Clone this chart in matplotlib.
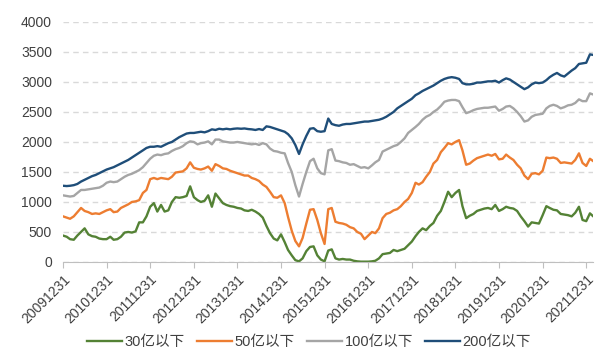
import pandas as pd
import matplotlib.pyplot as plt
import matplotlib.dates as mdates

plt.rcParams['font.family'] = ['Liberation Sans', 'Noto Sans CJK SC', 'DejaVu Sans']

# month-end dates from 20091231 to 20220228
dates = pd.date_range('2009-12-31', periods=147, freq=pd.offsets.MonthEnd())

below_30 = [440,
    420, 380, 370, 440, 500, 560, 460, 430, 420, 390, 380, 380,          # 2010
    420, 370, 380, 420, 490, 500, 490, 510, 660, 660, 760, 920,          # 2011
    980, 840, 950, 840, 860, 1000, 1080, 1070, 1080, 1100, 1260, 1080,   # 2012
    1030, 1000, 1020, 1110, 920, 1140, 1060, 980, 950, 930, 920, 900,    # 2013
    890, 860, 850, 870, 840, 800, 740, 600, 480, 390, 360, 460,          # 2014
    330, 200, 110, 30, 10, 60, 180, 250, 260, 110, 40, 10,               # 2015
    190, 210, 60, 40, 50, 40, 40, 20, 10, 5, 5, 5,                       # 2016
    10, 20, 60, 130, 140, 150, 200, 180, 200, 220, 280, 340,             # 2017
    430, 500, 560, 530, 600, 650, 770, 850, 1000, 1170, 1080, 1150,      # 2018
    1200, 930, 730, 770, 800, 850, 870, 890, 900, 880, 950, 850,         # 2019
    880, 920, 900, 890, 850, 760, 680, 590, 660, 650, 640, 780,          # 2020
    930, 900, 870, 860, 800, 790, 780, 760, 820, 920, 700, 680,          # 2021
    810, 760]

below_50 = [760,
    740, 720, 760, 830, 900, 850, 830, 800, 810, 800, 830, 860,
    880, 830, 840, 900, 930, 960, 1000, 1010, 1030, 1150, 1200, 1380,
    1400, 1380, 1400, 1390, 1380, 1420, 1490, 1500, 1510, 1560, 1660, 1570,
    1550, 1540, 1560, 1590, 1520, 1630, 1600, 1560, 1550, 1520, 1500, 1480,
    1460, 1440, 1440, 1400, 1380, 1350, 1290, 1250, 1170, 1080, 1070, 1110,
    980, 750, 520, 350, 260, 400, 640, 870, 880, 700, 480, 300,
    880, 900, 670, 650, 640, 620, 580, 560, 500, 470, 380, 440,
    500, 480, 560, 730, 800, 820, 860, 880, 930, 1000, 1050, 1150,
    1320, 1290, 1330, 1420, 1500, 1640, 1700, 1830, 1900, 1980, 1960, 2000,
    2030, 1860, 1620, 1640, 1690, 1730, 1750, 1770, 1790, 1770, 1800, 1710,
    1720, 1790, 1740, 1700, 1620, 1560, 1440, 1380, 1470, 1480, 1460, 1520,
    1740, 1730, 1740, 1720, 1650, 1660, 1650, 1640, 1700, 1810, 1650, 1600,
    1720, 1680]

below_100 = [1110,
    1100, 1090, 1100, 1150, 1200, 1200, 1210, 1220, 1230, 1240, 1270, 1320,
    1340, 1330, 1340, 1380, 1420, 1450, 1470, 1500, 1530, 1580, 1650, 1720,
    1770, 1790, 1780, 1800, 1810, 1850, 1880, 1900, 1930, 1980, 2010, 2000,
    1960, 1980, 1990, 2010, 1960, 2040, 2040, 2010, 2000, 1990, 1990, 2000,
    1990, 1980, 1970, 1960, 1970, 1950, 1980, 1960, 1890, 1850, 1840, 1820,
    1810, 1650, 1500, 1280, 1090, 1300, 1500, 1680, 1720, 1560, 1480, 1460,
    1860, 1880, 1690, 1680, 1660, 1650, 1620, 1630, 1600, 1570, 1580, 1560,
    1610, 1660, 1700, 1840, 1870, 1900, 1930, 1950, 2000, 2060, 2150, 2200,
    2250, 2300, 2370, 2420, 2450, 2500, 2540, 2600, 2670, 2690, 2700, 2700,
    2680, 2580, 2480, 2500, 2530, 2550, 2560, 2570, 2570, 2580, 2590, 2520,
    2550, 2590, 2600, 2560, 2500, 2430, 2340, 2360, 2420, 2450, 2460, 2470,
    2560, 2600, 2620, 2600, 2560, 2580, 2610, 2620, 2650, 2710, 2680, 2680,
    2810, 2790]

below_200 = [1270,
    1265, 1270, 1280, 1300, 1340, 1370, 1400, 1430, 1450, 1480, 1510, 1540,
    1560, 1580, 1610, 1640, 1670, 1700, 1740, 1780, 1820, 1860, 1900, 1920,
    1920, 1930, 1920, 1950, 1980, 2000, 2040, 2080, 2110, 2140, 2150, 2150,
    2160, 2170, 2160, 2180, 2210, 2200, 2220, 2210, 2220, 2210, 2220, 2225,
    2220, 2225, 2215, 2210, 2200, 2215, 2200, 2260, 2250, 2230, 2210, 2190,
    2170, 2130, 2060, 1950, 1800, 1960, 2100, 2220, 2230, 2180, 2170, 2180,
    2390, 2300, 2280, 2270, 2290, 2300, 2300, 2310, 2320, 2330, 2340, 2340,
    2350, 2360, 2370, 2390, 2420, 2460, 2500, 2560, 2600, 2640, 2680, 2720,
    2780, 2810, 2850, 2880, 2910, 2940, 2980, 3020, 3050, 3070, 3080, 3070,
    3050, 2980, 2960, 2960, 2970, 2990, 2990, 3000, 3010, 3010, 3020, 2990,
    3030, 3060, 3040, 3000, 2960, 2920, 2880, 2910, 2960, 2990, 2980, 2990,
    3030, 3080, 3120, 3150, 3110, 3090, 3140, 3190, 3230, 3300, 3310, 3320,
    3460, 3450]

labels = ['30亿以下', '50亿以下', '100亿以下', '200亿以下']
colors = ['#548235', '#ED7D31', '#A5A5A5', '#1F4E79']

fig = plt.figure(figsize=(6.06, 3.54), dpi=100)
ax = fig.add_axes([0.104, 0.26, 0.875, 0.678])

for vals, lab, col in zip([below_30, below_50, below_100, below_200], labels, colors):
    ax.plot(dates, vals, color=col, lw=1.7, label=lab)

ax.set_ylim(0, 4000)
ax.set_yticks(range(0, 4001, 500))
ax.set_xlim(dates[0], dates[-1])
ax.set_xticks(pd.to_datetime([f'{y}-12-31' for y in range(2009, 2022)]))
ax.xaxis.set_major_formatter(mdates.DateFormatter('%Y%m%d'))

ax.grid(axis='y', linestyle=(0, (4, 3)), color='#D9D9D9', lw=1)
ax.set_axisbelow(True)
for s in ['top', 'right', 'left']:
    ax.spines[s].set_visible(False)
ax.spines['bottom'].set_color('#BFBFBF')
ax.tick_params(axis='y', length=0, labelsize=10, labelcolor='#404040', pad=8)
ax.tick_params(axis='x', length=4, color='#BFBFBF', labelsize=10, labelcolor='#404040')
plt.setp(ax.get_xticklabels(), rotation=45, ha='right', rotation_mode='anchor')

fig.legend(loc='center', bbox_to_anchor=(0.51, 0.035), ncol=4, frameon=False,
           fontsize=10.5, handlelength=2.4, handletextpad=0.2, columnspacing=0.8,
           labelcolor='#404040')

fig.savefig('out.png', dpi=100)
